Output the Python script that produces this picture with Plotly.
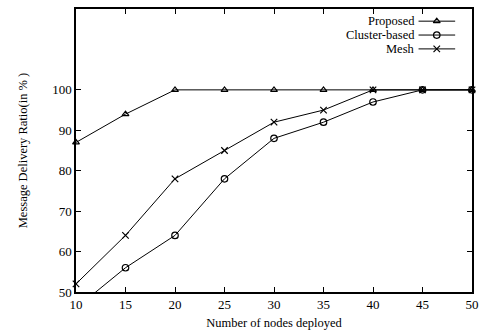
import plotly.graph_objects as go

nodes = [10, 15, 20, 25, 30, 35, 40, 45, 50]
proposed = [87, 94, 100, 100, 100, 100, 100, 100, 100]
cluster_based = [46, 56, 64, 78, 88, 92, 97, 100, 100]
mesh = [52, 64, 78, 85, 92, 95, 100, 100, 100]
series_names = ["Proposed", "Cluster-based", "Mesh"]
y_ticks = [50, 60, 70, 80, 90, 100]
x_ticks = [10, 15, 20, 25, 30, 35, 40, 45, 50]

FONT = "Liberation Serif"
symbols = ["triangle-up-open", "circle-open", "x-thin-open"]
sizes = [6, 6.5, 6.5]
clips = [False, True, False]

fig = go.Figure()
for name, vals, sym, sz, clip in zip(series_names, [proposed, cluster_based, mesh], symbols, sizes, clips):
    fig.add_trace(go.Scatter(
        x=nodes, y=vals, mode="lines+markers", name=name,
        line=dict(color="black", width=1),
        marker=dict(symbol=sym, size=sz, color="black", line=dict(color="black", width=1.2)),
        showlegend=False, cliponaxis=clip,
    ))

# custom gnuplot-style key (text right-aligned, sample to the right)
key_y = [0.957, 0.908, 0.859]
for name, sym, sz, ky in zip(series_names, symbols, sizes, key_y):
    fig.add_annotation(x=0.858, y=ky, xref="paper", yref="paper", text=name,
                       showarrow=False, xanchor="right", yanchor="middle",
                       borderpad=0,
                       font=dict(family=FONT, size=12.5, color="black"))
    fig.add_trace(go.Scatter(
        x=[0.865, 0.9575], y=[ky, ky], xaxis="x2", yaxis="y2",
        mode="lines", line=dict(color="black", width=1), showlegend=False, hoverinfo="skip"))
    fig.add_trace(go.Scatter(
        x=[0.911], y=[ky], xaxis="x2", yaxis="y2", mode="markers",
        marker=dict(symbol=sym, size=sz, color="black", line=dict(color="black", width=1.2)),
        showlegend=False, hoverinfo="skip"))

fig.update_layout(
    width=486, height=336,
    margin=dict(l=76, r=10, t=7, b=44),
    paper_bgcolor="white", plot_bgcolor="white",
    font=dict(family=FONT, size=13, color="black"),
    xaxis=dict(range=[10, 50], tickvals=x_ticks, ticks="inside", ticklen=5,
               tickcolor="black", showline=True, linecolor="black", linewidth=1.5,
               mirror="ticks", showgrid=False, zeroline=False,
               title=dict(text="Number of nodes deployed", font=dict(size=12.5), standoff=7)),
    yaxis=dict(range=[50, 120], tickvals=y_ticks, ticks="inside", ticklen=5,
               tickcolor="black", showline=True, linecolor="black", linewidth=1.5,
               mirror="ticks", showgrid=False, zeroline=False,
               title=dict(text="Message Delivery Ratio(in % )", font=dict(size=12.5), standoff=22)),
    xaxis2=dict(range=[0, 1], domain=[0, 1], overlaying="x", visible=False, fixedrange=True),
    yaxis2=dict(range=[0, 1], domain=[0, 1], overlaying="y", visible=False, fixedrange=True, anchor="x2"),
    showlegend=False,
)

fig.write_html("out.html")
